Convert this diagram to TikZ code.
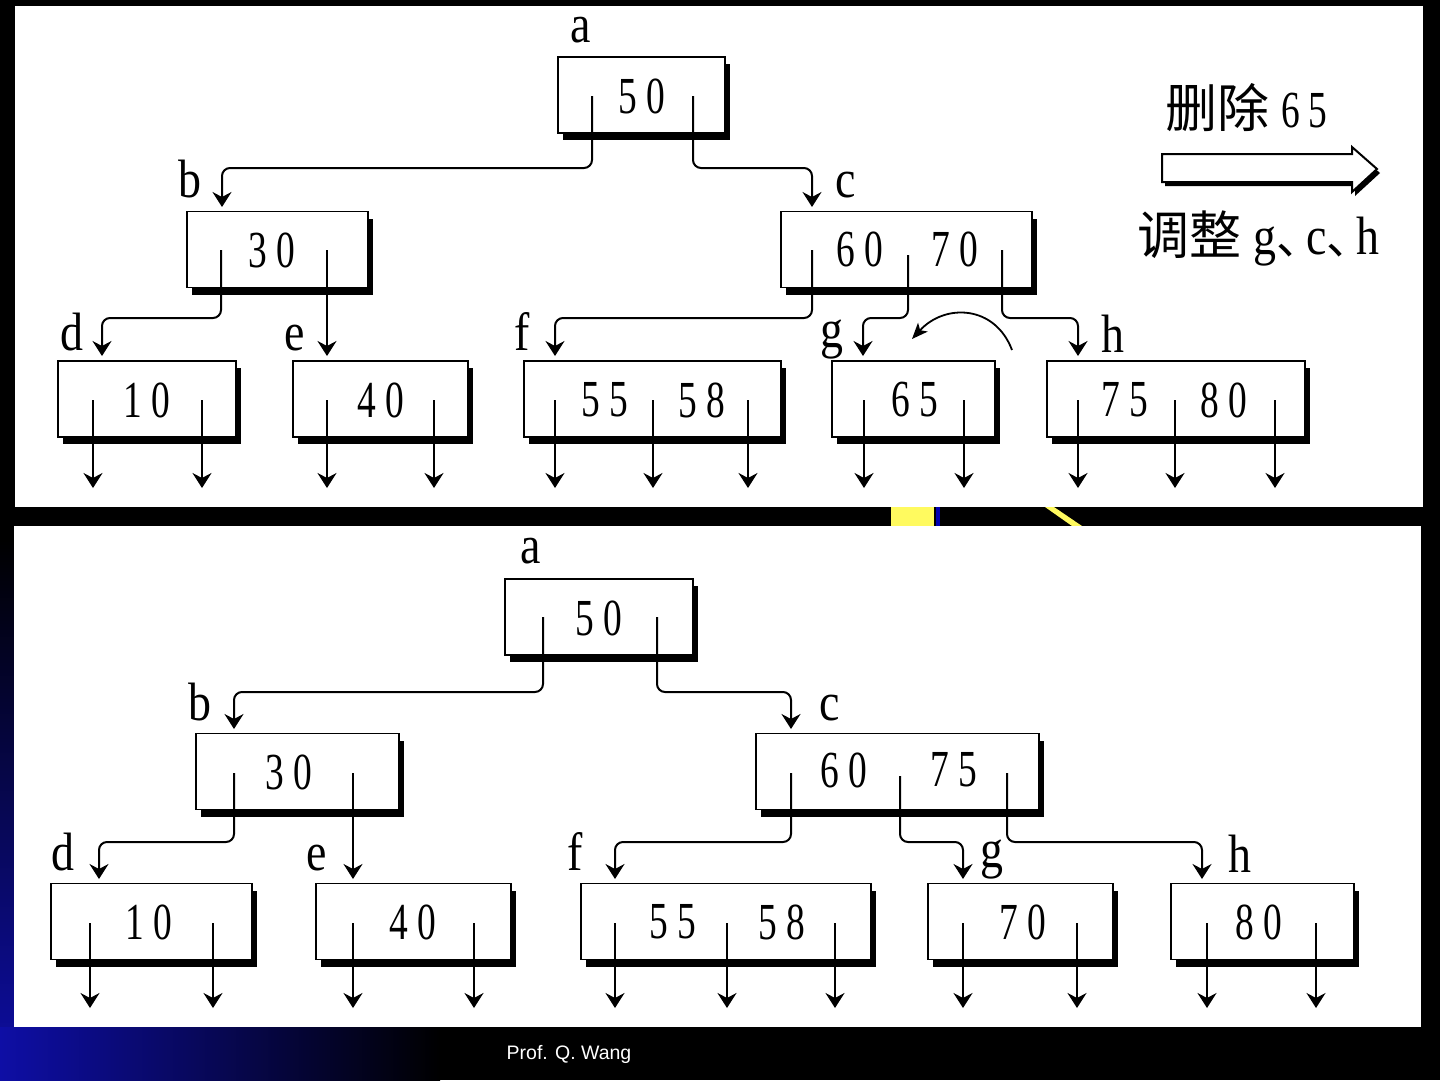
\documentclass[tikz,border=0pt]{standalone}
\usepackage{fontspec}
\usetikzlibrary{arrows.meta,shadows}
\newfontfamily\keyfont[FakeStretch=0.72]{Liberation Serif}
\newfontfamily\lblfont[FakeStretch=0.85]{Liberation Serif}
\newfontfamily\cjkfont{Noto Sans CJK SC}
\newfontfamily\footfont{Liberation Sans}
\newcommand{\keynum}[2]{#1\hspace{9pt}#2}
\newcommand{\cjkcomma}{\makebox[30pt][l]{\cjkfont\fontsize{46}{46}\selectfont 、}}
\definecolor{tmblue}{RGB}{14,14,165}
\definecolor{tmyellow}{RGB}{255,250,95}
\tikzset{
  keybox/.style={draw, fill=white, line width=1.8pt, minimum height=76pt, inner sep=0pt,
    drop shadow={shadow xshift=5pt, shadow yshift=-7pt, fill=black, opacity=1}},
  key/.style={font=\keyfont\fontsize{52}{52}\selectfont, inner sep=0pt},
  lbl/.style={font=\lblfont\fontsize{54}{54}\selectfont, inner sep=0pt, anchor=base},
  link/.style={line width=2pt, rounded corners=8pt},
  nil/.style={line width=2pt}
}
\begin{document}
\begin{tikzpicture}[x=1pt,y=-1pt,>={Stealth[length=15pt,width=19pt,inset=5pt]}]
\useasboundingbox (0,0) rectangle (1440,1080);
% slide background
\fill[black] (0,0) rectangle (1440,1080);
\shade[top color=black, bottom color=tmblue] (0,540) rectangle (15,1080);
\shade[left color=tmblue, right color=black] (0,1027) rectangle (440,1080);
\fill[tmyellow] (891,507) rectangle (934,526);
\fill[blue!70!black] (936,507) rectangle (940,526);
\fill[tmyellow] (1045,507) -- (1054,507) -- (1082,526) -- (1072,526) -- cycle;
\fill[white] (15,6) rectangle (1423,507);
\fill[white] (14,526) rectangle (1421,1027);

%% upper tree (before deleting 65)
\node[keybox, minimum width=167pt] (ua) at (641.5,95) {};
\node[keybox, minimum width=181pt] (ub) at (277.5,249.5) {};
\node[keybox, minimum width=251pt] (uc) at (906.5,249.5) {};
\node[keybox, minimum width=178pt] (ud) at (147,399) {};
\node[keybox, minimum width=175pt] (ue) at (380.5,399) {};
\node[keybox, minimum width=257pt] (uf) at (652.5,399) {};
\node[keybox, minimum width=163pt] (ug) at (913.5,399) {};
\node[keybox, minimum width=258pt] (uh) at (1176,399) {};
\node[key] (ua1) at (642,96) {\keynum50};
\node[key] (ub1) at (272,250) {\keynum30};
\node[key] (uc1) at (860,249) {\keynum60};
\node[key] (uc2) at (955,249) {\keynum70};
\node[key] (ud1) at (147,400) {\keynum10};
\node[key] (ue1) at (381,400) {\keynum40};
\node[key] (uf1) at (605,400) {\keynum55};
\node[key] (uf2) at (702,400) {\keynum58};
\node[key] (ug1) at (915,400) {\keynum65};
\node[key] (uh1) at (1125,400) {\keynum75};
\node[key] (uh2) at (1224,400) {\keynum80};
\node[lbl] (ua-l) at (581,42) {a};
\node[lbl] (ub-l) at (190,197) {b};
\node[lbl] (uc-l) at (846,197) {c};
\node[lbl] (ud-l) at (72,350) {d};
\node[lbl] (ue-l) at (295,350) {e};
\node[lbl] (uf-l) at (522,350) {f};
\node[lbl] (ug-l) at (832,347) {g};
\node[lbl] (uh-l) at (1113,352) {h};
\coordinate (ua-p1) at (592,96);
\coordinate (ua-p2) at (693,96);
\coordinate (ub-p1) at (221,250);
\coordinate (ub-p2) at (327,250);
\coordinate (uc-p1) at (812,250);
\coordinate (uc-p2) at (908,255);
\coordinate (uc-p3) at (1002,250);
\coordinate (ub-in) at (222,207);
\coordinate (uc-in) at (812,207);
\coordinate (ud-in) at (102,356);
\coordinate (ue-in) at (327,356);
\coordinate (uf-in) at (555,356);
\coordinate (ug-in) at (863,356);
\coordinate (uh-in) at (1078,356);
\draw[link,->] (ua-p1) -- ++(0,72) -| (ub-in);
\draw[link,->] (ua-p2) -- ++(0,72) -| (uc-in);
\draw[link,->] (ub-p1) -- ++(0,68) -| (ud-in);
\draw[link,->] (ub-p2) -- (ue-in);
\draw[link,->] (uc-p1) -- ++(0,68) -| (uf-in);
\draw[link,->] (uc-p2) -- ++(0,63) -| (ug-in);
\draw[link,->] (uc-p3) -- ++(0,68) -| (uh-in);
\foreach \x [count=\i] in {93,202,327,434,555,653,748,864,964,1078,1175,1275}
  {\coordinate (un\i) at (\x,400);
   \coordinate (un\i-end) at (\x,488);
   \draw[nil,->] (un\i) -- (un\i-end);}
% 70 moves down into g
\coordinate (mv-from) at (1012,350);
\coordinate (mv-to) at (912,339);
\draw[line width=1.8pt,-{Stealth[length=16pt,width=13pt,inset=4pt]}] (mv-from) .. controls (995,305) and (945,303) .. (mv-to);

% caption on the right
\node[anchor=base west, inner sep=0pt] (del) at (1165,127)
  {{\cjkfont\fontsize{52}{52}\selectfont 删除}\hspace{12pt}{\keyfont\fontsize{52}{52}\selectfont \keynum65}};
\draw[line width=2pt, fill=white, drop shadow={shadow xshift=3pt, shadow yshift=-4pt, fill=black, opacity=1}]
  (1162,154) -- (1352,154) -- (1352,147) -- (1377,169) -- (1352,192) -- (1352,182) -- (1162,182) -- cycle;
\node[anchor=base west, inner sep=0pt] (adj) at (1137,254)
  {{\cjkfont\fontsize{52}{52}\selectfont 调整}\hspace{12pt}{\lblfont\fontsize{54}{54}\selectfont g\cjkcomma c\cjkcomma h}};

%% lower tree (after adjusting g, c, h)
\node[keybox, minimum width=188pt] (la) at (599,617) {};
\node[keybox, minimum width=203pt] (lb) at (297.5,771.5) {};
\node[keybox, minimum width=283pt] (lc) at (897.5,771.5) {};
\node[keybox, minimum width=201pt] (ld) at (151.5,921.5) {};
\node[keybox, minimum width=195pt] (le) at (413.5,921.5) {};
\node[keybox, minimum width=290pt] (lf) at (726,921.5) {};
\node[keybox, minimum width=185pt] (lg) at (1020.5,921.5) {};
\node[keybox, minimum width=183pt] (lh) at (1262.5,921.5) {};
\node[key] (la1) at (599,618) {\keynum50};
\node[key] (lb1) at (289,772) {\keynum30};
\node[key] (lc1) at (844,770) {\keynum60};
\node[key] (lc2) at (954,770) {\keynum75};
\node[key] (ld1) at (149,922) {\keynum10};
\node[key] (le1) at (413,922) {\keynum40};
\node[key] (lf1) at (673,922) {\keynum55};
\node[key] (lf2) at (782,922) {\keynum58};
\node[key] (lg1) at (1023,922) {\keynum70};
\node[key] (lh1) at (1259,922) {\keynum80};
\node[lbl] (la-l) at (531,563) {a};
\node[lbl] (lb-l) at (200,720) {b};
\node[lbl] (lc-l) at (830,720) {c};
\node[lbl] (ld-l) at (63,870) {d};
\node[lbl] (le-l) at (317,870) {e};
\node[lbl] (lf-l) at (575,870) {f};
\node[lbl] (lg-l) at (992,867) {g};
\node[lbl] (lh-l) at (1240,872) {h};
\coordinate (la-p1) at (543,617);
\coordinate (la-p2) at (657,617);
\coordinate (lb-p1) at (234,773);
\coordinate (lb-p2) at (353,773);
\coordinate (lc-p1) at (791,773);
\coordinate (lc-p2) at (900,776);
\coordinate (lc-p3) at (1007,773);
\coordinate (lb-in) at (234,729);
\coordinate (lc-in) at (791,729);
\coordinate (ld-in) at (99,879);
\coordinate (le-in) at (353,879);
\coordinate (lf-in) at (615,879);
\coordinate (lg-in) at (963,879);
\coordinate (lh-in) at (1202,879);
\draw[link,->] (la-p1) -- ++(0,75) -| (lb-in);
\draw[link,->] (la-p2) -- ++(0,75) -| (lc-in);
\draw[link,->] (lb-p1) -- ++(0,69) -| (ld-in);
\draw[link,->] (lb-p2) -- (le-in);
\draw[link,->] (lc-p1) -- ++(0,69) -| (lf-in);
\draw[link,->] (lc-p2) -- ++(0,66) -| (lg-in);
\draw[link,->] (lc-p3) -- ++(0,69) -| (lh-in);
\foreach \x [count=\i] in {90,213,353,474,615,727,835,963,1077,1207,1316}
  {\coordinate (ln\i) at (\x,923);
   \coordinate (ln\i-end) at (\x,1008);
   \draw[nil,->] (ln\i) -- (ln\i-end);}

\node[font=\footfont\fontsize{19.5}{20}\selectfont, text=white, inner sep=0pt] (foot) at (569,1054) {Prof. Q. Wang};
\end{tikzpicture}
\end{document}
